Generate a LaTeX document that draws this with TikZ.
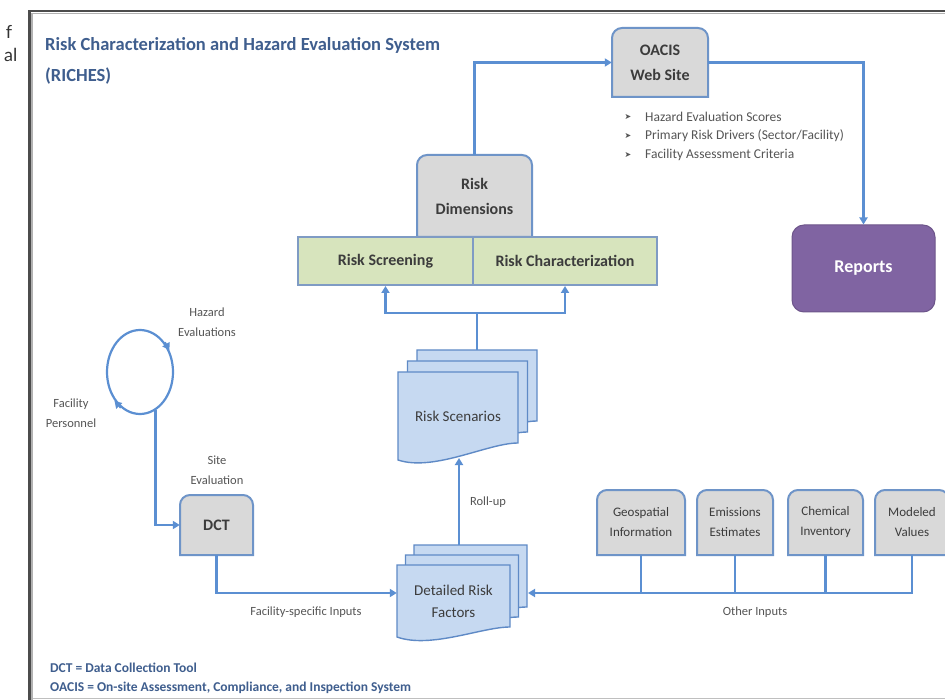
\documentclass[tikz,border=0pt]{standalone}
\usepackage{fontspec}
\setmainfont{Carlito}
\newfontfamily\symfont{DejaVu Sans}
\newfontfamily\pagefont{Lato}
\usetikzlibrary{arrows.meta,shapes.geometric}
\definecolor{lineblue}{HTML}{5B8FD2}
\definecolor{boxgray}{HTML}{D9D9D9}
\definecolor{boxedge}{HTML}{6E94C8}
\definecolor{greenfill}{HTML}{D7E4BD}
\definecolor{greenedge}{HTML}{7F9BC4}
\definecolor{docfill}{HTML}{C6D9F1}
\definecolor{docedge}{HTML}{5F8AC6}
\definecolor{purp}{HTML}{8064A2}
\definecolor{titleblue}{HTML}{3F5E8E}
\definecolor{txtgray}{HTML}{3C3C3C}
\definecolor{smallgray}{HTML}{555555}
\tikzset{
  conn/.style={draw=lineblue, line width=2.2pt},
  arr/.style={conn, -{Triangle[length=7pt,width=8pt]}},
  gboxsty/.style={fill=boxgray, draw=boxedge, line width=2pt},
  docsty/.style={fill=docfill, draw=docedge, line width=1.4pt},
  lbl/.style={font=\bfseries\fontsize{16}{25}\selectfont, text=txtgray, align=center, inner sep=0pt},
  inlbl/.style={font=\fontsize{13}{20}\selectfont, text=txtgray, align=center, inner sep=0pt},
  doclbl/.style={font=\fontsize{15}{22}\selectfont, text=txtgray, align=center, inner sep=0pt},
  small/.style={font=\fontsize{12.5}{20}\selectfont, text=smallgray, align=center, inner sep=0pt},
  bul/.style={font=\fontsize{13.5}{15}\selectfont, text=smallgray, anchor=west, inner sep=0pt},
  bulmark/.style={font=\symfont\fontsize{8}{10}\selectfont, text=smallgray, inner sep=0pt},
  note/.style={font=\bfseries\fontsize{13.5}{15}\selectfont, text=titleblue, anchor=west, inner sep=0pt},
  greenbox/.style={fill=greenfill, draw=greenedge, line width=2pt, lbl, font=\bfseries\fontsize{16}{18}\selectfont}
}
% box with rounded top corners: name, x1, y1, x2, y2, style, text
\newcommand{\snipbox}[7]{%
  \path[gboxsty] (#2,#5) -- (#2,#3+10) .. controls (#2,#3+4.5) and (#2+4.5,#3) .. (#2+10,#3)
     -- (#4-10,#3) .. controls (#4-4.5,#3) and (#4,#3+4.5) .. (#4,#3+10) -- (#4,#5) -- cycle;
  \node[#6, minimum width={(#4-#2)*1pt}, minimum height={(#5-#3)*1pt}] (#1) at ({(#2+#4)/2},{(#3+#5)/2}) {#7};
}
% document page: x1, y1, x2, y bottom left, y bottom right
\newcommand{\docpage}[5]{%
  \path[docsty] (#1,#2) -- (#3,#2) -- (#3,#5) .. controls ({#3-0.25*(#3-#1)},#5) and ({#1+0.3*(#3-#1)},{#4+12}) .. (#1,#4) -- cycle;
}
\begin{document}
\begin{tikzpicture}[x=1pt,y=-1pt]
\useasboundingbox (0,0) rectangle (945,700);
% frame
\fill[white] (30,12) rectangle (945,698);
\draw[line width=1pt, black!25] (30,698.5) -- (945,698.5);
\draw[line width=1.5pt, black!30] (32,700) -- (32,13.5) -- (945,13.5);
\draw[line width=2.5pt, black!70] (29.5,700) -- (29.5,11) -- (945,11);
% fragments of surrounding text
\node[font=\pagefont\fontsize{18}{20}\selectfont, anchor=east, inner sep=0pt, text=black!80] (fragf) at (12.5,32) {f};
\node[font=\pagefont\fontsize{18}{20}\selectfont, anchor=east, inner sep=0pt, text=black!80] (fragal) at (17.5,55) {al};
% title
\node[anchor=west, inner sep=0pt, font=\bfseries\fontsize{18.5}{22}\selectfont, text=titleblue] (title1) at (45,45) {Risk Characterization and Hazard Evaluation System};
\node[anchor=west, inner sep=0pt, font=\bfseries\fontsize{18.5}{22}\selectfont, text=titleblue] (title2) at (45,76) {(RICHES)};
% OACIS
\snipbox{oacis}{612}{28}{708}{97}{lbl}{OACIS\\Web Site}
\node[bulmark] (m1) at (628,117) {➤};
\node[bulmark] (m2) at (628,136) {➤};
\node[bulmark] (m3) at (628,155) {➤};
\node[bul] (b1) at (645,117) {Hazard Evaluation Scores};
\node[bul] (b2) at (645,136) {Primary Risk Drivers (Sector/Facility)};
\node[bul] (b3) at (645,155) {Facility Assessment Criteria};
% Reports
\node[fill=purp, draw=purp!85!black, line width=1pt, rounded corners=12pt, minimum width=143pt, minimum height=87pt, text=white, font=\bfseries\fontsize{18}{20}\selectfont] (reports) at (863.5,268.5) {Reports};
% Risk dimensions
\snipbox{rdim}{417}{155}{532}{237}{lbl}{Risk\\Dimensions}
\node[greenbox, minimum width=175pt, minimum height=48pt] (rscr) at (385.5,261) {Risk Screening};
\node[greenbox, minimum width=184pt, minimum height=48pt] (rchar) at (565,261) {Risk Characterization};
% Risk scenarios (stacked documents)
\docpage{417}{350}{537}{438}{421}
\docpage{407.5}{361}{527.5}{449}{432}
\docpage{398}{372}{518}{460}{443}
\node[doclbl, minimum width=120pt, minimum height=88pt] (rs) at (458,416) {Risk Scenarios};
\coordinate (rsback) at (477,350);
\coordinate (rsbottom) at (459,458);
\coordinate (jn) at (477,313);
% Detailed risk factors
\docpage{414}{545}{527}{617}{607}
\docpage{405.5}{555}{518.5}{627}{617}
\docpage{397}{565}{510}{637}{627}
\node[doclbl, minimum width=113pt, minimum height=72pt] (drf) at (453.5,601) {Detailed Risk\\Factors};
\coordinate (drfback) at (459,545);
\coordinate (drfright) at (528,593);
% DCT and loop
\snipbox{dct}{180}{495}{253}{555}{lbl}{DCT}
\node[ellipse, draw=lineblue, line width=2.2pt, minimum width=66pt, minimum height=84pt, inner sep=0pt] (loop) at (140,372) {};
\node[small] (hazev) at (207,322) {Hazard\\Evaluations};
\node[small] (facper) at (71,413) {Facility\\Personnel};
\node[small] (siteev) at (217,470) {Site\\Evaluation};
% input boxes
\snipbox{geo}{597}{490}{685}{555}{inlbl}{Geospatial\\Information}
\snipbox{emis}{697}{490}{773}{555}{inlbl}{Emissions\\Estimates}
\snipbox{chem}{788}{490}{863}{555}{inlbl}{Chemical\\Inventory}
\snipbox{model}{875}{490}{949}{555}{inlbl}{Modeled\\Values}
% labels
\node[small] (rollup) at (488,502) {Roll-up};
\node[small] (fsi) at (306,612) {Facility-specific Inputs};
\node[small] (oin) at (755,612) {Other Inputs};
\node[note] (n1) at (50,668) {DCT = Data Collection Tool};
\node[note] (n2) at (50,688) {OACIS = On-site Assessment, Compliance, and Inspection System};
% connectors
\draw[arr] (rdim.north) |- (oacis.west);
\draw[arr] (oacis.east) -| (reports.north);
\draw[conn] (rsback) -- (jn);
\draw[arr] (jn) -| (rscr.south);
\draw[arr] (jn) -| (rchar.south);
\draw[arr] (drfback) -- (rsbottom);
\draw[arr] (loop.-68) |- (dct.west);
\draw[arr, shorten >=-1pt] (loop.50) -- (loop.38);
\draw[arr, shorten >=-1pt] (loop.242) -- (loop.230);
\draw[arr] (dct.south) |- ([yshift=8pt]drf.west);
\draw[conn] (geo.south) -- (geo.south |- drfright);
\draw[conn] (emis.south) -- (emis.south |- drfright);
\draw[conn] (chem.south) -- (chem.south |- drfright);
\draw[arr] (model.south) |- (drfright);
\end{tikzpicture}
\end{document}
